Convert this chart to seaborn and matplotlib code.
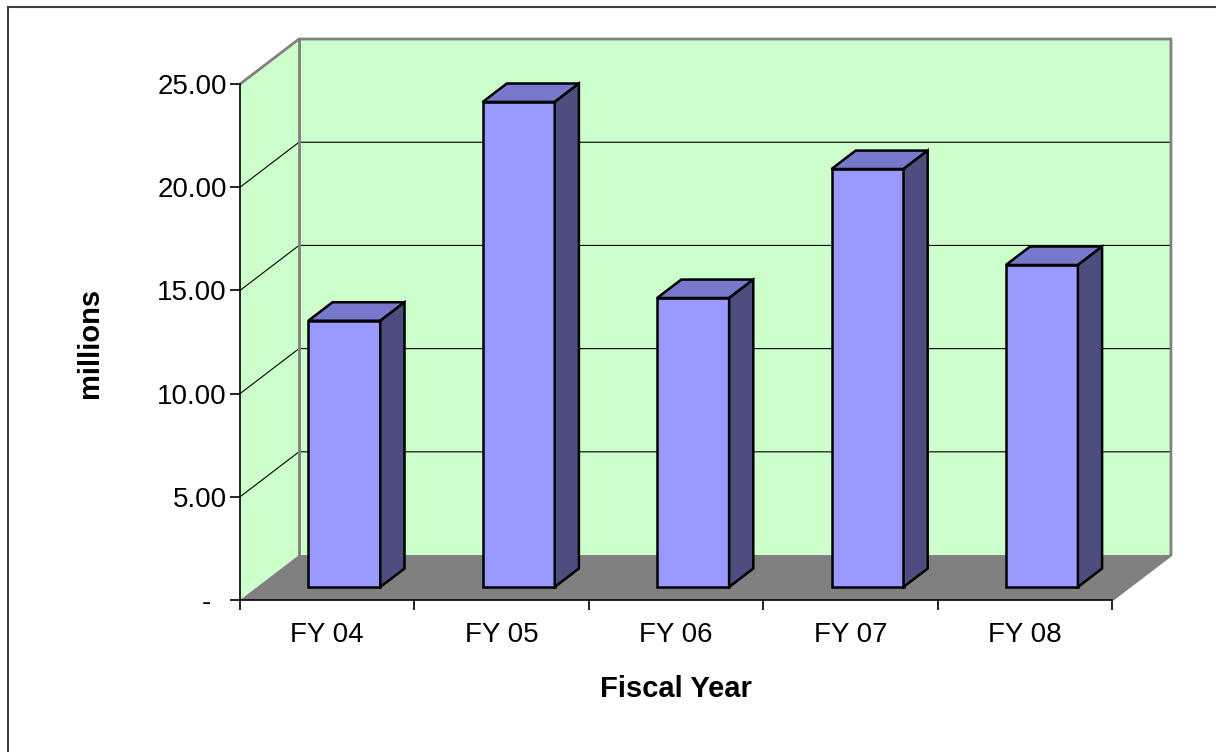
import numpy as np
import pandas as pd
import matplotlib
matplotlib.use("Agg")
import matplotlib.pyplot as plt
from matplotlib.patches import Polygon, Rectangle
import seaborn as sns

# -----------------
# data (millions)
# -----------------
years = ["FY 04", "FY 05", "FY 06", "FY 07", "FY 08"]
amounts = [12.9, 23.5, 14.0, 20.25, 15.6]
ytick_vals = [0, 5, 10, 15, 20, 25]
ytick_labels = ["-  ", "5.00", "10.00", "15.00", "20.00", "25.00"]

# colours of the old excel 3d look
FRONT = "#9999ff"
TOP = "#7777cc"
SIDE = "#4d4d80"
WALL = "#ccffcc"
FLOOR = "#808080"
EDGE = "#808080"

sns.set_theme(style="white")
plt.rcParams["font.family"] = ["Liberation Sans", "DejaVu Sans"]
plt.rcParams["text.color"] = "black"
plt.rcParams["axes.labelcolor"] = "black"
plt.rcParams["xtick.color"] = "black"
plt.rcParams["ytick.color"] = "black"

# depth of the box in data units, and where the bars sit inside it
DX, DY = 0.338, 2.18
F0, FD = 0.29, 0.41
BAR_W = 0.413
X0, X1 = -0.5, 4.5
YMAX = 25

fig = plt.figure(figsize=(12.16, 7.52), dpi=100)
ax = fig.add_axes([0.1974, 0.2021, 0.7656, 0.7460])

df = pd.DataFrame({"year": years, "amount": amounts})
sns.barplot(data=df, x="year", y="amount", order=years, width=BAR_W,
            color=FRONT, saturation=1, errorbar=None, edgecolor="black",
            linewidth=1.8, zorder=5, ax=ax)

# walls and floor
ax.add_patch(Polygon([(X0, 0), (X0 + DX, DY), (X0 + DX, YMAX + DY), (X0, YMAX)],
                     fc=WALL, ec="none", zorder=0))
ax.add_patch(Polygon([(X0 + DX, DY), (X1 + DX, DY), (X1 + DX, YMAX + DY), (X0 + DX, YMAX + DY)],
                     fc=WALL, ec="none", zorder=0))
ax.add_patch(Polygon([(X0, 0), (X1, 0), (X1 + DX, DY), (X0 + DX, DY)],
                     fc=FLOOR, ec="none", zorder=1))

# gridlines on side and back wall
for v in ytick_vals[1:-1]:
    ax.plot([X0, X0 + DX, X1 + DX], [v, v + DY, v + DY], color="black", lw=0.8, zorder=2)

# grey wall edges
ax.plot([X0, X0 + DX, X1 + DX, X1 + DX, X1], [YMAX, YMAX + DY, YMAX + DY, DY, 0],
        color=EDGE, lw=2, zorder=2, clip_on=False, solid_joinstyle="miter")
ax.plot([X0 + DX, X0 + DX], [DY, YMAX + DY], color=EDGE, lw=2, zorder=2)

# push the front faces into the box, add top and side faces
for p in list(ax.patches):
    if p.get_facecolor()[:3] != matplotlib.colors.to_rgb(FRONT):
        continue
    x0 = p.get_x() + F0 * DX
    y0 = p.get_y() + F0 * DY
    w, h = p.get_width(), p.get_height()
    p.set_x(x0)
    p.set_y(y0)
    p.set_joinstyle("miter")
    dx, dy = FD * DX, FD * DY
    ax.add_patch(Polygon([(x0, y0 + h), (x0 + w, y0 + h), (x0 + w + dx, y0 + h + dy), (x0 + dx, y0 + h + dy)],
                         fc=TOP, ec="black", lw=1.8, zorder=5, joinstyle="miter"))
    ax.add_patch(Polygon([(x0 + w, y0), (x0 + w + dx, y0 + dy), (x0 + w + dx, y0 + h + dy), (x0 + w, y0 + h)],
                         fc=SIDE, ec="black", lw=1.8, zorder=5, joinstyle="miter"))

ax.set_xlim(X0, X0 + 931 / 174.4)
ax.set_ylim(0, 561 / 20.64)

# axes lines and ticks
for s in ["top", "right"]:
    ax.spines[s].set_visible(False)
ax.spines["left"].set_bounds(0, YMAX)
ax.spines["bottom"].set_bounds(X0, X1)
for s in ["left", "bottom"]:
    ax.spines[s].set_color("black")
    ax.spines[s].set_linewidth(1.2)
    ax.spines[s].set_zorder(3)

ax.set_yticks(ytick_vals, ytick_labels)
ax.set_xticks(np.arange(X0, X1 + 0.01, 1), [""] * 6)
ax.set_xticks(range(len(years)), years, minor=True)
ax.tick_params(axis="both", which="major", bottom=True, left=True, direction="out",
               length=7.5, width=1.2, labelsize=20)
ax.tick_params(axis="y", pad=2)
ax.tick_params(axis="x", which="minor", bottom=True, length=0, pad=16, labelsize=20)

ax.set_xlabel("Fiscal Year", fontsize=21, fontweight="bold", va="center")
ax.set_ylabel("millions", fontsize=21, fontweight="bold", va="center")
ax.xaxis.set_label_coords(0.468, -0.158)
ax.yaxis.set_label_coords(-0.161, 0.458)

# outer chart border (right and bottom sides fall off the picture)
fig.add_artist(Rectangle((8 / 1216, -0.1), 1.2, 1.1 - 6.5 / 752, transform=fig.transFigure,
                         fill=False, ec="#404040", lw=1.5))

fig.savefig("out.png", dpi=100)
